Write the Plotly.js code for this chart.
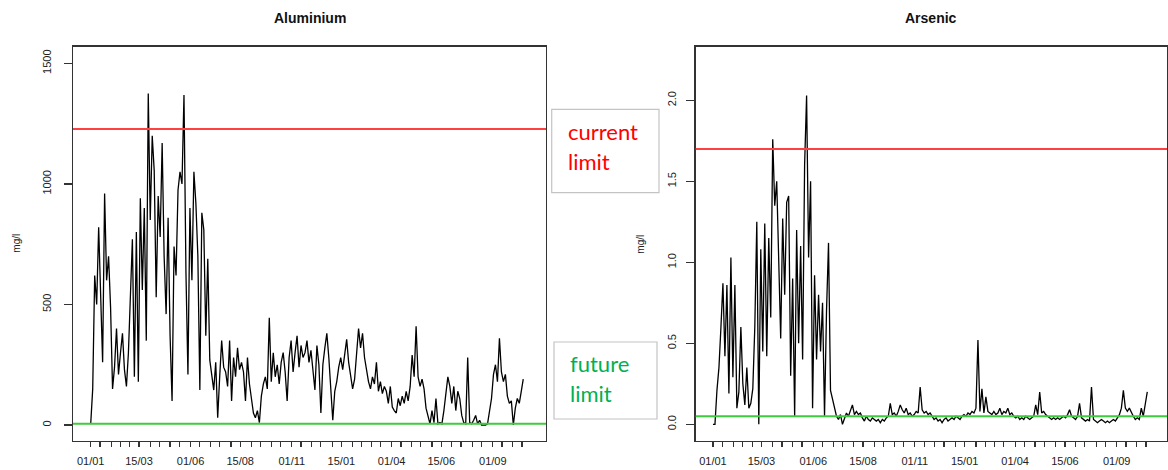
<!DOCTYPE html>
<html><head><meta charset="utf-8">
<script src="https://cdn.plot.ly/plotly-3.0.1.min.js"></script>
<style>html,body{margin:0;padding:0;background:#fff;} #chart{width:1168px;height:470px;}</style>
</head><body><div id="chart"></div>
<script>
const titles = ['Aluminium', 'Arsenic'];
const yUnit = 'mg/l';
const startDate = '2013-01-01';
const stepDays = 3;

const alValues = [
  5,150,620,500,820,560,260,960,600,700,
  490,150,240,400,210,300,380,230,160,300,
  560,770,200,800,180,940,560,900,350,1375,
  850,1200,1055,530,950,780,1170,700,460,860,
  370,100,740,620,975,1050,1000,1369,630,210,
  900,600,1050,920,700,145,880,810,370,690,
  270,200,145,260,30,200,350,240,220,160,
  350,100,280,200,320,230,260,220,100,280,
  170,110,50,30,60,10,120,170,200,150,
  445,180,300,200,250,170,260,300,220,100,
  280,350,220,300,370,240,330,280,300,350,
  260,310,220,145,330,250,50,250,320,380,
  280,150,20,140,180,240,280,230,300,355,
  260,210,150,190,300,400,320,380,280,220,
  180,150,200,170,260,140,180,130,160,140,
  90,160,75,60,50,110,80,120,90,140,
  100,160,290,200,410,200,160,190,150,70,
  30,5,60,10,110,5,10,5,60,140,
  200,160,90,160,60,140,110,40,10,5,
  280,10,5,20,40,5,20,0,0,0,
  5,60,110,210,250,180,360,220,180,210,
  120,90,100,0,70,110,90,140,190
];

const asValues = [
  0.0,0.0,0.21,0.35,0.6,0.87,0.42,0.86,0.19,1.03,
  0.29,0.86,0.10,0.2,0.6,0.25,0.12,0.35,0.1,0.13,
  0.22,0.6,1.25,0.0,1.08,0.45,1.24,0.42,1.15,0.66,
  1.76,1.35,1.5,0.97,0.53,1.27,0.8,1.37,1.41,0.3,
  0.9,0.05,1.2,0.5,1.1,0.4,1.6,2.03,1.03,1.5,
  0.1,0.92,0.4,0.8,0.45,0.75,0.05,0.7,1.12,0.21,
  0.15,0.1,0.05,0.03,0.06,0.0,0.04,0.07,0.05,0.08,
  0.12,0.06,0.08,0.06,0.07,0.04,0.02,0.05,0.03,0.02,
  0.04,0.03,0.02,0.03,0.01,0.03,0.02,0.04,0.05,0.13,
  0.06,0.07,0.05,0.08,0.12,0.09,0.07,0.1,0.06,0.07,
  0.05,0.06,0.08,0.07,0.23,0.09,0.07,0.08,0.06,0.07,
  0.05,0.03,0.04,0.02,0.03,0.01,0.03,0.04,0.02,0.03,
  0.04,0.03,0.05,0.04,0.03,0.05,0.06,0.05,0.07,0.06,
  0.08,0.07,0.1,0.52,0.08,0.22,0.07,0.17,0.08,0.07,
  0.06,0.08,0.06,0.07,0.1,0.06,0.08,0.07,0.1,0.06,
  0.07,0.05,0.04,0.05,0.03,0.04,0.03,0.05,0.04,0.03,
  0.04,0.05,0.12,0.06,0.2,0.07,0.08,0.06,0.05,0.04,
  0.03,0.04,0.03,0.04,0.03,0.04,0.05,0.04,0.06,0.09,
  0.05,0.04,0.03,0.05,0.13,0.04,0.03,0.02,0.03,0.02,
  0.23,0.03,0.02,0.01,0.02,0.03,0.02,0.01,0.02,0.01,
  0.02,0.03,0.02,0.04,0.06,0.1,0.21,0.1,0.08,0.1,
  0.07,0.05,0.03,0.04,0.03,0.1,0.05,0.12,0.2
];

const alLimits = {current: 1228, future: 5};
const asLimits = {current: 1.70, future: 0.05};

const alYTicks = [0, 500, 1000, 1500];
const alYTickText = ['0', '500', '1000', '1500'];
const asYTicks = [0, 0.5, 1, 1.5, 2];
const asYTickText = ['0.0', '0.5', '1.0', '1.5', '2.0'];

const tickLabelDates = ['2013-01-01','2013-03-15','2013-06-01','2013-08-15','2013-11-01','2014-01-15','2014-04-01','2014-06-15','2014-09-01'];
const tickLabels = ['01/01','15/03','01/06','15/08','01/11','15/01','01/04','15/06','01/09'];

const noteCurrent = ['current', 'limit'];
const noteFuture = ['future', 'limit'];

// ---------- helpers ----------
const W = 1168, H = 470;
const DAY = 86400000;
const t0 = Date.parse(startDate + 'T00:00:00Z');
function dayToStr(d) {
  return new Date(t0 + d * DAY).toISOString().replace('T', ' ').replace('Z', '');
}
const px = x => x / W;
const py = y => 1 - y / H;

const xAl = alValues.map((_, i) => dayToStr(i * stepDays));
const xAs = asValues.map((_, i) => dayToStr(i * stepDays));

// ticks on the 1st and 15th of every month
const tickVals = [], tickText = [];
for (let y = 2013; y <= 2014; y++) {
  for (let m = 1; m <= 12; m++) {
    for (const d of [1, 15]) {
      const s = y + '-' + String(m).padStart(2, '0') + '-' + String(d).padStart(2, '0');
      if (s > '2014-10-15') continue;
      tickVals.push(s);
      const k = tickLabelDates.indexOf(s);
      tickText.push(k >= 0 ? tickLabels[k] : '');
    }
  }
}

const axisColor = '#333';
const tickFont = {family: 'Liberation Sans, Arial, sans-serif', size: 11, color: '#222'};

function xAxis(domain, r0, r1, anchor) {
  return {
    domain: domain, anchor: anchor, type: 'date',
    range: [dayToStr(r0), dayToStr(r1)],
    tickmode: 'array', tickvals: tickVals, ticktext: tickText,
    ticks: 'outside', ticklen: 5, tickwidth: 1.2, tickcolor: axisColor,
    showline: true, mirror: true, linecolor: axisColor, linewidth: 1.3,
    showgrid: false, zeroline: false, tickfont: tickFont, ticklabelstandoff: 5
  };
}
function yAxis(domainY, range, tv, tt, anchor, standoff) {
  return {
    domain: domainY, anchor: anchor, range: range,
    tickmode: 'array', tickvals: tv, ticktext: tt, tickangle: -90,
    ticks: 'outside', ticklen: 8, tickwidth: 1.2, tickcolor: axisColor,
    showline: true, mirror: true, linecolor: axisColor, linewidth: 1.3,
    showgrid: false, zeroline: false, tickfont: tickFont, ticklabelstandoff: standoff
  };
}

const yDom = [py(440.7), py(46.7)];

const traces = [
  {x: xAl, y: alValues, xaxis: 'x', yaxis: 'y', type: 'scatter', mode: 'lines',
   line: {color: '#000', width: 1.3}, hoverinfo: 'skip', showlegend: false},
  {x: xAs, y: asValues, xaxis: 'x2', yaxis: 'y2', type: 'scatter', mode: 'lines',
   line: {color: '#000', width: 1.3}, hoverinfo: 'skip', showlegend: false}
];

const red = '#ff4040', green = '#3ccc3c';
const shapes = [
  {type: 'line', xref: 'x domain', yref: 'y', x0: 0, x1: 1, y0: alLimits.current, y1: alLimits.current, line: {color: red, width: 2}},
  {type: 'line', xref: 'x domain', yref: 'y', x0: 0, x1: 1, y0: alLimits.future, y1: alLimits.future, line: {color: green, width: 2}},
  {type: 'line', xref: 'x2 domain', yref: 'y2', x0: 0, x1: 1, y0: asLimits.current, y1: asLimits.current, line: {color: red, width: 2}},
  {type: 'line', xref: 'x2 domain', yref: 'y2', x0: 0, x1: 1, y0: asLimits.future, y1: asLimits.future, line: {color: green, width: 2}},
  {type: 'rect', xref: 'paper', yref: 'paper', x0: px(551.7), x1: px(659), y0: py(192.7), y1: py(109.3), line: {color: '#c4c4c4', width: 1.2}, fillcolor: '#fff'},
  {type: 'rect', xref: 'paper', yref: 'paper', x0: px(554), x1: px(657), y0: py(419), y1: py(342), line: {color: '#c4c4c4', width: 1.2}, fillcolor: '#fff'}
];

const noteFont = (c) => ({family: 'Lato, Open Sans, sans-serif', size: 22, color: c});
const titleFont = {family: 'Liberation Sans, Arial, sans-serif', size: 14, color: '#111', weight: 'bold'};
const unitFont = {family: 'Liberation Sans, Arial, sans-serif', size: 10, color: '#222'};

const annotations = [
  {xref: 'paper', yref: 'paper', x: px(309.5), y: py(18.5), text: '<b>' + titles[0] + '</b>', showarrow: false, xanchor: 'center', yanchor: 'middle', font: titleFont},
  {xref: 'paper', yref: 'paper', x: px(931), y: py(18.5), text: '<b>' + titles[1] + '</b>', showarrow: false, xanchor: 'center', yanchor: 'middle', font: titleFont},
  {xref: 'paper', yref: 'paper', x: px(17), y: py(243.7), text: yUnit, textangle: -90, showarrow: false, xanchor: 'center', yanchor: 'middle', font: unitFont},
  {xref: 'paper', yref: 'paper', x: px(641), y: py(243.7), text: yUnit, textangle: -90, showarrow: false, xanchor: 'center', yanchor: 'middle', font: unitFont},
  {xref: 'paper', yref: 'paper', x: px(566), y: py(132), text: noteCurrent[0], showarrow: false, xanchor: 'left', yanchor: 'middle', font: noteFont('#ff0000')},
  {xref: 'paper', yref: 'paper', x: px(566), y: py(161), text: noteCurrent[1], showarrow: false, xanchor: 'left', yanchor: 'middle', font: noteFont('#ff0000')},
  {xref: 'paper', yref: 'paper', x: px(568), y: py(363), text: noteFuture[0], showarrow: false, xanchor: 'left', yanchor: 'middle', font: noteFont('#00b050')},
  {xref: 'paper', yref: 'paper', x: px(568), y: py(393), text: noteFuture[1], showarrow: false, xanchor: 'left', yanchor: 'middle', font: noteFont('#00b050')}
];

const layout = {
  width: W, height: H,
  margin: {l: 0, r: 0, t: 0, b: 0},
  paper_bgcolor: '#fff', plot_bgcolor: '#fff',
  showlegend: false,
  xaxis: xAxis([px(73), px(546)], -26.8, 688.4, 'y'),
  yaxis: yAxis(yDom, [-65, 1569], alYTicks, alYTickText, 'x', 8),
  xaxis2: xAxis([px(695.7), px(1167)], -26.0, 683.7, 'y2'),
  yaxis2: yAxis(yDom, [-0.101, 2.331], asYTicks, asYTickText, 'x2', 6),
  shapes: shapes,
  annotations: annotations
};

Plotly.newPlot('chart', traces, layout, {staticPlot: true, displayModeBar: false});
</script>
</body></html>
